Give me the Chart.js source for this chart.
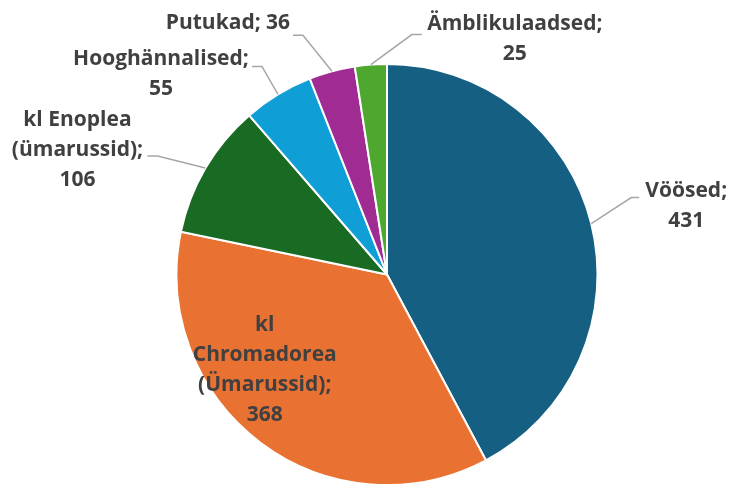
<!DOCTYPE html>
<html>
<head>
<meta charset="utf-8">
<script src="https://cdn.jsdelivr.net/npm/chart.js@4.4.0/dist/chart.umd.min.js"></script>
<style>
  html, body { margin: 0; padding: 0; background: #fff; }
  #wrap { width: 732px; height: 486px; }
</style>
</head>
<body>
<div id="wrap"><canvas id="c"></canvas></div>
<script>
// ── Data ────────────────────────────────────────────────────────────────────
const categories = ['Vöösed', 'kl Chromadorea (Ümarussid)', 'kl Enoplea (ümarussid)',
                    'Hooghännalised', 'Putukad', 'Ämblikulaadsed'];
const values = [431, 368, 106, 55, 36, 25];
const colors = ['#156082', '#E97132', '#196B24', '#0F9ED5', '#A02B93', '#4EA72E'];

// ── Label layout (offsets from the slice's outer mid point) ─────────────────
// text: centre of text block, elbow/end: leader line bend and end; wrap: max line width
const labelLayout = [
    { text: [95, -18],  elbow: [40, -26],  end: [48, -26],  wrap: 60 },
    { text: [4, -73],   inside: true,                        wrap: 60 },
    { text: [-128, -18], elbow: [-48, -12], end: [-58, -12], wrap: 140 },
    { text: [-117, -20], elbow: [-16, -28], end: [-26, -28], wrap: 60 },
    { text: [-104, -48], elbow: [-29, -36], end: [-39, -36], wrap: 400 },
    { text: [144, -26], elbow: [41, -30],  end: [51, -30],  wrap: 60 }
];

const FONT = 'bold 21px "Open Sans", sans-serif';
const LINE_H = 30;

function wrapText(ctx, text, maxW) {
    const words = text.split(' ');
    const lines = [];
    let cur = '';
    words.forEach(w => {
        const test = cur ? cur + ' ' + w : w;
        if (cur && ctx.measureText(test).width > maxW) {
            lines.push(cur);
            cur = w;
        } else {
            cur = test;
        }
    });
    if (cur) lines.push(cur);
    return lines;
}

// ── Data label plugin ───────────────────────────────────────────────────────
const pieLabels = {
    id: 'pieLabels',
    afterDatasetsDraw(chart) {
        const ctx = chart.ctx;
        const meta = chart.getDatasetMeta(0);
        ctx.save();
        ctx.font = FONT;
        ctx.textAlign = 'center';
        ctx.textBaseline = 'middle';
        meta.data.forEach((arc, i) => {
            const p = arc.getProps(['x', 'y', 'startAngle', 'endAngle', 'outerRadius'], true);
            const mid = (p.startAngle + p.endAngle) / 2;
            const mx = p.x + Math.cos(mid) * p.outerRadius;
            const my = p.y + Math.sin(mid) * p.outerRadius;
            const lay = labelLayout[i];

            if (!lay.inside) {
                ctx.strokeStyle = '#A6A6A6';
                ctx.lineWidth = 1.5;
                ctx.beginPath();
                ctx.moveTo(mx, my);
                ctx.lineTo(mx + lay.elbow[0], my + lay.elbow[1]);
                ctx.lineTo(mx + lay.end[0], my + lay.end[1]);
                ctx.stroke();
            }

            const lines = wrapText(ctx, categories[i] + '; ' + values[i], lay.wrap);
            const cx = mx + lay.text[0];
            const cy = my + lay.text[1];
            const top = cy - (lines.length - 1) * LINE_H / 2;
            ctx.fillStyle = '#404040';
            lines.forEach((ln, k) => ctx.fillText(ln, cx, top + k * LINE_H));
        });
        ctx.restore();
    }
};

// ── Chart ───────────────────────────────────────────────────────────────────
new Chart(document.getElementById('c'), {
    type: 'pie',
    data: {
        labels: categories,
        datasets: [{
            data: values,
            backgroundColor: colors,
            borderColor: '#FFFFFF',
            borderWidth: 2,
            hoverOffset: 0
        }]
    },
    options: {
        responsive: true,
        maintainAspectRatio: false,
        animation: false,
        layout: { padding: { top: 63, bottom: -1, left: 175, right: 133 } },
        plugins: {
            legend: { display: false },
            tooltip: { enabled: false }
        }
    },
    plugins: [pieLabels]
});
</script>
</body>
</html>
